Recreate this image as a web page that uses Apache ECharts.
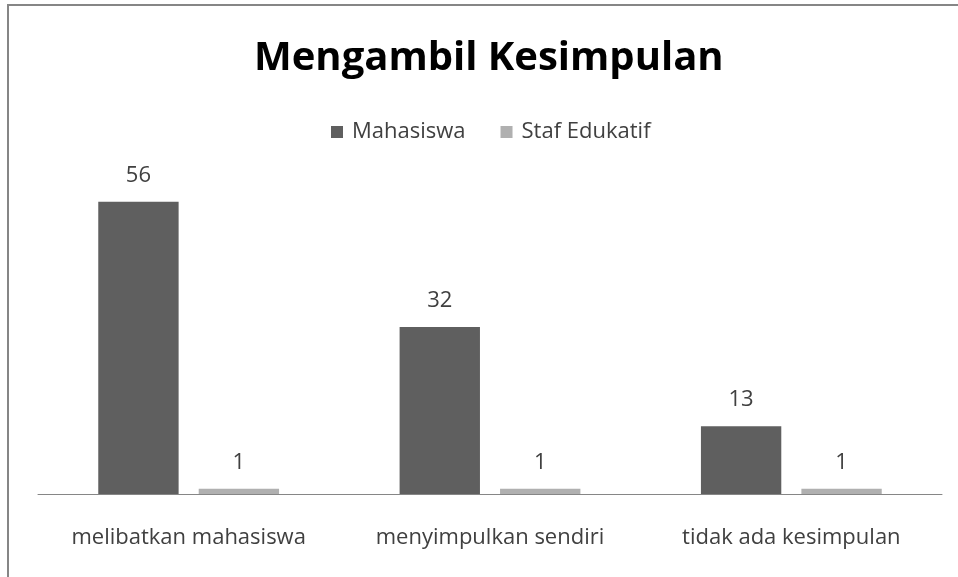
<!DOCTYPE html>
<html>
<head>
<meta charset="utf-8">
<style>
  html, body { margin: 0; padding: 0; background: #fff; }
  #chart { width: 958px; height: 577px; }
</style>
<script src="https://cdn.jsdelivr.net/npm/echarts@6/dist/echarts.min.js"></script>
</head>
<body>
<div id="chart"></div>
<script>
const categories = ['melibatkan mahasiswa', 'menyimpulkan sendiri', 'tidak ada kesimpulan']
const mahasiswa = [56, 32, 13]
const stafEdukatif = [1, 1, 1]

const fontFamily = '"Open Sans", "Noto Sans", sans-serif'

const chart = echarts.init(document.getElementById('chart'))
chart.setOption({
  animation: false,
  title: {
    text: 'Mengambil Kesimpulan',
    left: 249,
    top: 34,
    textStyle: { fontFamily, fontSize: 40, fontWeight: 'bold', color: '#000' }
  },
  legend: {
    top: 116,
    left: 326,
    itemWidth: 12,
    itemHeight: 12,
    itemGap: 35,
    icon: 'rect',
    textStyle: { fontFamily, fontSize: 22, color: '#404040', padding: [0, 0, 0, 4] },
    data: ['Mahasiswa', 'Staf Edukatif']
  },
  graphic: [{
    type: 'rect',
    shape: { x: 8, y: 5, width: 970, height: 600 },
    style: { fill: 'none', stroke: '#868686', lineWidth: 2 }
  }],
  grid: { left: 38, right: 16, top: 181, bottom: 83 },
  xAxis: {
    type: 'category',
    data: categories,
    axisTick: { show: false },
    axisLine: { lineStyle: { color: '#868686', width: 1 } },
    axisLabel: { interval: 0, fontFamily, fontSize: 22, color: '#404040', margin: 33 }
  },
  yAxis: {
    type: 'value',
    min: 0,
    max: 60,
    show: false
  },
  series: [{
    name: 'Mahasiswa',
    type: 'bar',
    data: mahasiswa,
    barGap: '25%',
    barCategoryGap: '40%',
    itemStyle: { color: '#5f5f5f' },
    label: { show: true, position: 'top', distance: 15, fontFamily, fontSize: 22, color: '#404040' }
  }, {
    name: 'Staf Edukatif',
    type: 'bar',
    data: stafEdukatif,
    itemStyle: { color: '#b0b0b0' },
    label: { show: true, position: 'top', distance: 15, fontFamily, fontSize: 22, color: '#404040' }
  }]
})
</script>
</body>
</html>
